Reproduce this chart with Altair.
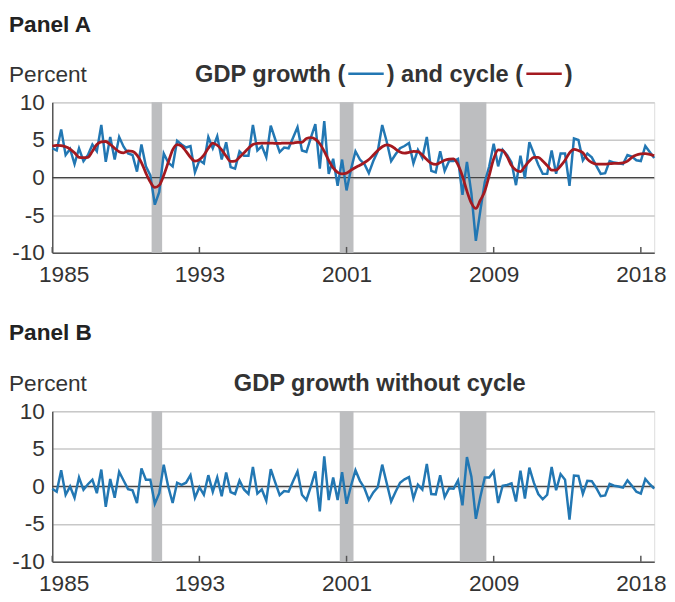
import altair as alt
import pandas as pd

# Quarterly real GDP growth (annualized %), 1985Q1-2018Q4
gdp_growth = [
    3.9, 3.6, 6.4, 3.0,   3.8, 1.8, 3.9, 2.2,   3.0, 4.4, 3.5, 7.0,   2.1, 5.4, 2.4, 5.4,
    4.1, 3.2, 3.0, 0.8,   4.4, 1.5, 0.3, -3.6,  -1.9, 3.2, 2.0, 1.5,  4.9, 4.4, 4.0, 4.2,
    0.7, 2.3, 1.9, 5.4,   3.9, 5.5, 2.4, 4.7,   1.4, 1.2, 3.5, 2.9,   2.9, 7.0, 3.6, 4.2,
    2.7, 6.9, 5.1, 3.4,   4.0, 3.9, 5.3, 6.7,   3.6, 3.4, 5.3, 7.1,   1.2, 7.5, 0.5, 2.5,
    -1.1, 2.4, -1.7, 1.1, 3.5, 2.4, 1.8, 0.6,   2.2, 3.5, 7.0, 4.8,   2.2, 3.1, 3.9, 4.2,
    4.6, 1.9, 3.7, 2.6,   5.4, 0.9, 0.7, 3.5,   0.9, 2.2, 2.2, 2.5,   -2.3, 2.1, -2.1, -8.4,
    -4.4, -0.6, 1.5, 4.5, 1.5, 3.7, 3.0, 2.0,   -1.0, 2.9, -0.1, 4.7, 3.2, 1.7, 0.5, 0.5,
    3.6, 0.5, 3.2, 3.2,   -1.1, 5.2, 5.0, 2.3,  3.2, 2.7, 1.6, 0.5,   0.6, 2.2, 2.0, 1.9,
    1.8, 3.0, 2.8, 2.3,   2.2, 4.2, 3.4, 2.6,
]

# Cyclical component of GDP growth (%)
gdp_cycle = [
    4.2, 4.3, 4.25, 4.1, 3.8, 3.3, 2.7, 2.65, 2.7, 3.5,
    4.4, 4.75, 4.8, 4.4, 3.9, 3.45, 3.3, 3.55, 3.5, 3.0,
    2.0, 0.6, -0.6, -1.3, -1.0, 0.3, 2.0, 3.7, 4.4, 4.2,
    3.5, 2.7, 2.2, 2.4, 3.0, 3.9, 4.6, 4.3, 3.7, 2.85,
    2.15, 2.2, 2.7, 3.3, 3.9, 4.4, 4.55, 4.6, 4.6, 4.6,
    4.55, 4.55, 4.6, 4.6, 4.6, 4.7, 4.7, 5.2, 5.3, 5.1,
    4.5, 3.5, 2.3, 1.3, 0.7, 0.5, 0.6, 1.0, 1.35, 1.65,
    2.0, 2.4, 3.0, 3.6, 4.1, 4.35, 4.2, 3.8, 3.4, 3.25,
    3.35, 3.5, 3.45, 3.0, 2.4, 1.9, 1.75, 2.0, 2.3, 2.45,
    2.5, 1.7, 0.2, -1.8, -3.4, -4.1, -3.0, -1.8, 0.3, 2.5,
    3.7, 3.6, 2.8, 1.6, 1.0, 0.8, 1.5, 2.2, 2.7, 2.7,
    2.2, 1.6, 1.0, 1.0, 1.55, 2.3, 3.3, 3.75, 3.6, 3.3,
    2.45, 2.0, 1.8, 1.8, 1.8, 1.85, 1.9, 1.9, 1.95, 2.2,
    2.7, 3.0, 3.15, 3.2, 3.1, 2.9,
]

first_year = 1985
quarter_time = [first_year + i / 4 for i in range(len(gdp_growth))]

# Recession shading (fractional years)
recession_start = [1990.57, 2001.12, 2007.85]
recession_end = [1991.16, 2001.89, 2009.34]

# x-axis ticks every 33 quarters (1985Q1, 1993Q2, 2001Q3, 2009Q4, 2018Q1)
x_ticks = [1985, 1993.25, 2001.5, 2009.75, 2018]
y_ticks = [-10, -5, 0, 5, 10]

BLUE = "#2277B3"
RED = "#A4191F"
SHADE = "#BDBEC0"
TXT = "#333333"
FONT = "Liberation Sans"

W, H = 612, 153

df = pd.DataFrame({"t": quarter_time, "gdp": gdp_growth, "cycle": gdp_cycle})
rec = pd.DataFrame({"start": recession_start, "end": recession_end})
ticks_df = pd.DataFrame({"t": x_ticks})

x_scale = alt.Scale(domain=[first_year, quarter_time[-1]], nice=False, zero=False)
y_scale = alt.Scale(domain=[-10, 10], nice=False)

x_axis = alt.Axis(values=x_ticks, labelExpr="toString(floor(datum.value))", title=None,
                  grid=False, ticks=False, domain=True, domainColor="#555555", domainWidth=1.5,
                  labelFontSize=23, labelColor=TXT, labelFont=FONT, labelPadding=11,
                  labelFlush=True, labelFlushOffset=14, labelOverlap=False)
y_axis = alt.Axis(values=y_ticks, labelExpr="toString(datum.value)", title=None,
                  grid=True, gridColor="#C8C8C8", gridWidth=1.5,
                  ticks=False, domain=True, domainColor="#555555", domainWidth=1.5,
                  labelFontSize=23, labelColor=TXT, labelFont=FONT, labelPadding=8,
                  labelOverlap=False, labelBound=False)


def text_layer(label, x, y, size=22, bold=False, align="left", color=TXT):
    return alt.Chart(pd.DataFrame({"label": [label]})).mark_text(
        align=align, baseline="alphabetic", fontSize=size, font=FONT,
        fontWeight="bold" if bold else "normal", color=color,
    ).encode(text="label:N", x=alt.value(x), y=alt.value(y))


def dash_layer(x1, x2, y, color):
    return alt.Chart(pd.DataFrame({"a": [0]})).mark_rule(color=color, strokeWidth=2.5).encode(
        x=alt.value(x1), x2=alt.value(x2), y=alt.value(y))


def base_layers():
    shade = alt.Chart(rec).mark_rect(color=SHADE).encode(
        x=alt.X("start:Q", scale=x_scale, axis=x_axis), x2="end:Q",
        y=alt.value(0), y2=alt.value(H))
    zero = alt.Chart(pd.DataFrame({"z": [0]})).mark_rule(color="#444444", strokeWidth=1.3).encode(
        y=alt.Y("z:Q", scale=y_scale, axis=y_axis))
    tick_marks = alt.Chart(ticks_df).mark_rule(color="#555555", strokeWidth=1.5).encode(
        x=alt.X("t:Q", scale=x_scale, axis=x_axis), y=alt.value(H), y2=alt.value(H - 6))
    return shade, zero, tick_marks


TS = 24  # centred title font size
ty = -21

# Panel A
shadeA, zeroA, ticksA = base_layers()
blueA = alt.Chart(df).mark_line(color=BLUE, strokeWidth=2.5).encode(
    x=alt.X("t:Q", scale=x_scale, axis=x_axis), y=alt.Y("gdp:Q", scale=y_scale, axis=y_axis))
redA = alt.Chart(df).mark_line(color=RED, strokeWidth=2.8, interpolate="monotone").encode(
    x=alt.X("t:Q", scale=x_scale, axis=x_axis), y=alt.Y("cycle:Q", scale=y_scale, axis=y_axis))

panelA = alt.layer(
    shadeA, zeroA, ticksA, blueA, redA,
    text_layer("Panel A", -44, -72, size=23, bold=True, color="#222222"),
    text_layer("Percent", -44, ty, size=23),
    text_layer("GDP growth (", 298, ty, size=TS, bold=True, align="right"),
    dash_layer(301, 337, ty - 8, BLUE),
    text_layer(") and cycle (", 340, ty, size=TS, bold=True),
    dash_layer(482, 518, ty - 8, RED),
    text_layer(")", 521, ty, size=TS, bold=True),
).properties(width=W, height=H)

# Panel B
shadeB, zeroB, ticksB = base_layers()
blueB = alt.Chart(df).transform_calculate(resid="datum.gdp - datum.cycle").mark_line(
    color=BLUE, strokeWidth=2.5).encode(
    x=alt.X("t:Q", scale=x_scale, axis=x_axis), y=alt.Y("resid:Q", scale=y_scale, axis=y_axis))

panelB = alt.layer(
    shadeB, zeroB, ticksB, blueB,
    text_layer("Panel B", -44, -72, size=23, bold=True, color="#222222"),
    text_layer("Percent", -44, ty, size=23),
    text_layer("GDP growth without cycle", 333, ty, size=TS, bold=True, align="center"),
).properties(width=W, height=H)

chart = alt.vconcat(panelA, panelB, spacing=161, bounds="flush").properties(
    padding=0
).configure_view(stroke=None).configure(font=FONT).configure_axis(labelOverlap=False)

chart.save("out.html", embed_options={"renderer": "svg", "actions": False})
